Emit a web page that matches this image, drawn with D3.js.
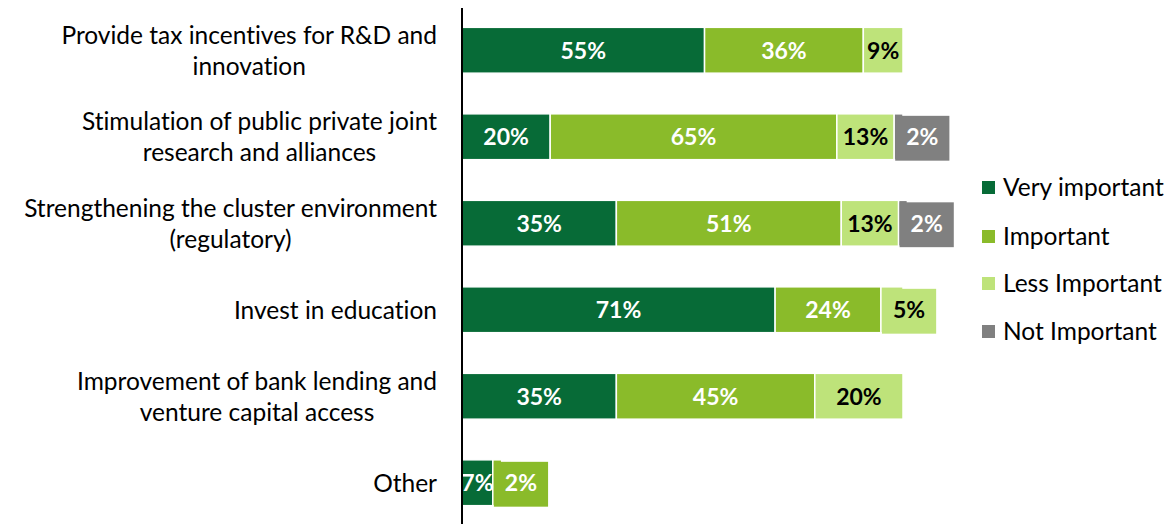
<!DOCTYPE html>
<html><head><meta charset="utf-8">
<script src="https://cdn.jsdelivr.net/npm/d3@7"></script>
<style>
html,body{margin:0;padding:0;background:#fff;}
svg{display:block;font-family:Lato,"Open Sans",sans-serif;font-variant-ligatures:none;font-feature-settings:"liga" 0;}
</style></head>
<body><svg id="chart" width="1171" height="524"></svg>
<script>
const categories = [
  ["Provide tax incentives for R&D and", "innovation"],
  ["Stimulation of public private joint", "research and alliances"],
  ["Strengthening the cluster environment", "(regulatory)"],
  ["Invest in education"],
  ["Improvement of bank lending and", "venture capital access"],
  ["Other"]
];
const seriesNames = ["Very important", "Important", "Less Important", "Not Important"];
const veryImportant = [55, 20, 35, 71, 35, 7];
const important     = [36, 65, 51, 24, 45, 2];
const lessImportant = [9, 13, 13, 5, 20, 0];
const notImportant  = [0, 2, 2, 0, 0, 0];
const colors = ["#076B37", "#8ABB2A", "#BEE37A", "#808080"];
const labelColors = ["#fff", "#fff", "#000", "#fff"];

const svg = d3.select("#chart");
const x = d3.scaleLinear().domain([0, 100]).range([462, 903]);
const y = d3.scaleBand().domain(d3.range(categories.length)).range([7, 526]).paddingInner(0.47).paddingOuter(0.235);

const values = [veryImportant, important, lessImportant, notImportant];
const rows = categories.map((c, i) => {
  let acc = 0;
  return values.map((s, k) => { const seg = {k, i, x0: acc, x1: acc + s[i], v: s[i]}; acc += s[i]; return seg; });
});
const segs = rows.flat().filter(d => d.v > 0);

const gBars = svg.append("g");
const gBoxes = svg.append("g");
const gText = svg.append("g");
segs.forEach(d => {
  gBars.append("rect")
    .attr("x", x(d.x0)).attr("y", y(d.i))
    .attr("width", x(d.x1) - x(d.x0)).attr("height", y.bandwidth())
    .attr("fill", colors[d.k]).attr("stroke", "#fff").attr("stroke-width", 1.5);
});
segs.forEach(d => {
  const segW = x(d.x1) - x(d.x0);
  const t = gText.append("text")
    .attr("y", y(d.i) + y.bandwidth() / 2)
    .attr("dy", "0.36em")
    .attr("text-anchor", "middle")
    .attr("font-size", 23).attr("font-weight", 700)
    .attr("fill", labelColors[d.k])
    .text(d.v + "%");
  const tw = t.node().getComputedTextLength();
  let cx = (x(d.x0) + x(d.x1)) / 2;
  if (tw + 4 > segW && d.k > 0) {
    const boxW = tw + 22;
    cx = x(d.x0) + 1 + boxW / 2;
    gBoxes.append("rect")
      .attr("x", cx - boxW / 2).attr("y", y(d.i) + 2)
      .attr("width", boxW).attr("height", y.bandwidth() - 1)
      .attr("fill", colors[d.k]);
  }
  t.attr("x", cx);
});

// axis line
svg.append("line").attr("x1", 462).attr("x2", 462).attr("y1", 8).attr("y2", 524)
  .attr("stroke", "#000").attr("stroke-width", 2);

// category labels (block right-aligned, lines centered)
categories.forEach((lines, i) => {
  const cy = y(i) + y.bandwidth() / 2;
  const lh = 31;
  const t = svg.append("text").attr("text-anchor", "middle").attr("font-size", 24.5).attr("fill", "#000");
  const spans = lines.map((ln, j) => t.append("tspan")
      .attr("y", cy + (j - (lines.length - 1) / 2) * lh)
      .attr("dy", "0.36em").text(ln));
  const w = d3.max(spans, s => s.node().getComputedTextLength());
  spans.forEach(s => s.attr("x", 437 - w / 2));
});

// legend
const legY = [187, 236, 283, 331];
seriesNames.forEach((n, k) => {
  svg.append("rect").attr("x", 982).attr("y", legY[k] - 6).attr("width", 13).attr("height", 13).attr("fill", colors[k]);
  svg.append("text").attr("x", 1003).attr("y", legY[k]).attr("dy", "0.36em")
    .attr("font-size", 24.5).attr("fill", "#000").text(n);
});
</script></body></html>
